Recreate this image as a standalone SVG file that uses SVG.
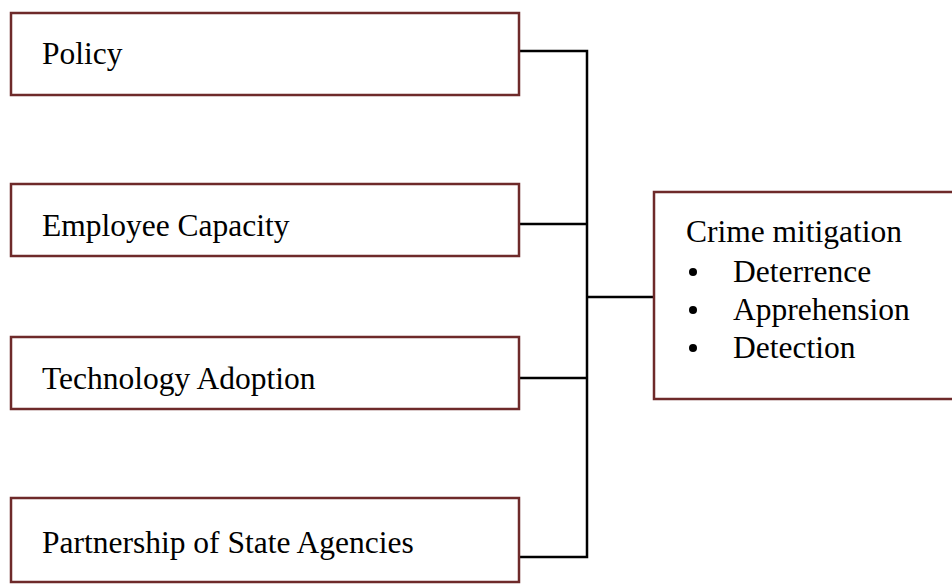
<svg xmlns="http://www.w3.org/2000/svg" width="952" height="585" viewBox="0 0 952 585">
<style>
.box{fill:#fff;stroke:#6e2a2a;stroke-width:2.5}
.t{font-family:"Liberation Serif","Times New Roman",serif;font-size:31.5px;fill:#000}
.c{fill:none;stroke:#000;stroke-width:2.5}
</style>
<rect width="952" height="585" fill="#fff"/>
<g id="connectors">
<polyline class="c" points="519,51 587,51 587,557 519,557"/>
<line class="c" x1="519" y1="224" x2="587" y2="224"/>
<line class="c" x1="519" y1="378" x2="587" y2="378"/>
<line class="c" x1="587" y1="297" x2="654" y2="297"/>
</g>
<g id="policy">
<rect class="box" x="11" y="13" width="508" height="82"/>
<text class="t" x="42" y="64">Policy</text>
</g>
<g id="employee">
<rect class="box" x="11" y="184" width="508" height="72"/>
<text class="t" x="42" y="236">Employee Capacity</text>
</g>
<g id="technology">
<rect class="box" x="11" y="337" width="508" height="72"/>
<text class="t" x="42" y="389">Technology Adoption</text>
</g>
<g id="partnership">
<rect class="box" x="11" y="498" width="508" height="84"/>
<text class="t" x="42" y="553">Partnership of State Agencies</text>
</g>
<g id="crime">
<rect class="box" x="654" y="192" width="310" height="207"/>
<text class="t" x="686" y="242">Crime mitigation</text>
<circle cx="693" cy="272" r="4"/>
<circle cx="693" cy="310" r="4"/>
<circle cx="693" cy="348" r="4"/>
<text class="t" x="733" y="282">Deterrence</text>
<text class="t" x="733" y="320">Apprehension</text>
<text class="t" x="733" y="358">Detection</text>
</g>
</svg>
